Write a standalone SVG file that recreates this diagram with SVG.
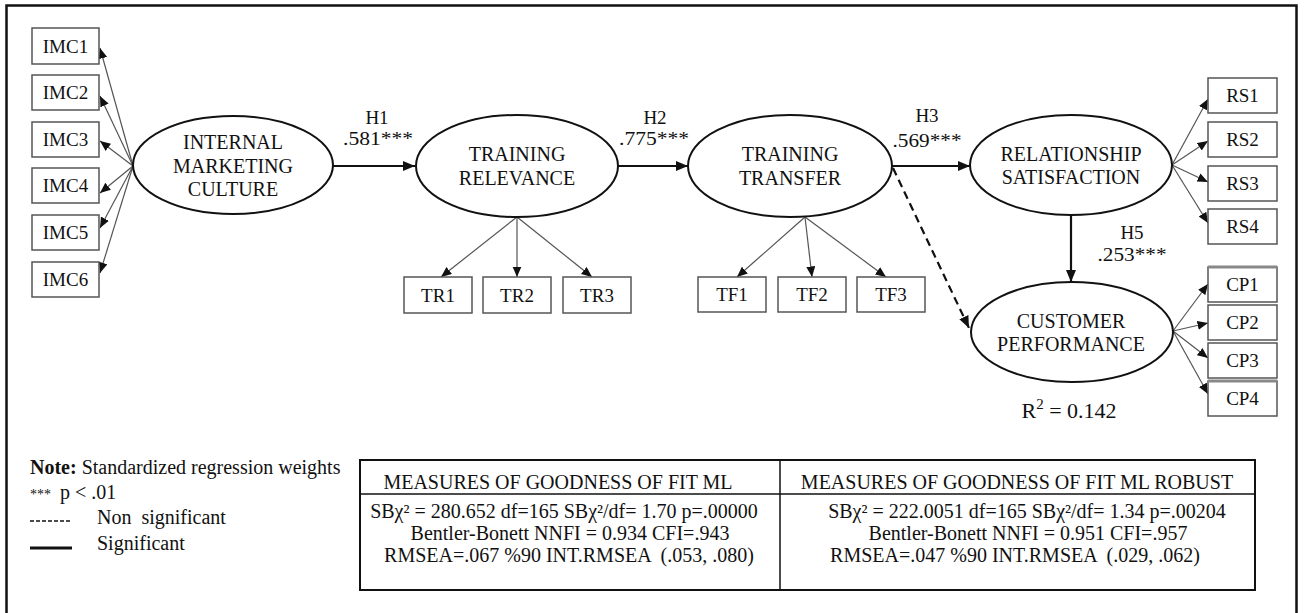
<svg xmlns="http://www.w3.org/2000/svg" width="1304" height="613" viewBox="0 0 1304 613">
<style>
text{font-family:"Liberation Serif","Times New Roman",serif;fill:#111}
.lat{font-size:20px;text-anchor:middle}
.obs{font-size:19px;text-anchor:middle}
.lbl{font-size:19px;text-anchor:middle}
.tb{font-size:20px;white-space:pre}
.tc{font-size:20px;white-space:pre;text-anchor:middle}
.ell{fill:#fff;stroke:#111;stroke-width:2}
.box{fill:#fff;stroke:#555;stroke-width:1.5}
.ind{stroke:#555;stroke-width:1.2;fill:none;marker-end:url(#ah)}
.str{stroke:#111;stroke-width:2.2;fill:none;marker-end:url(#ahb)}
.dash{stroke:#111;stroke-width:2.2;fill:none;stroke-dasharray:8 5;marker-end:url(#ahb)}
</style>
<defs>
<marker id="ah" markerUnits="userSpaceOnUse" markerWidth="11" markerHeight="10" refX="10.5" refY="4.5" orient="auto"><path d="M0,0 L10.5,4.5 L0,9 z" fill="#111"/></marker>
<marker id="ahb" markerUnits="userSpaceOnUse" markerWidth="13" markerHeight="11" refX="12" refY="5" orient="auto"><path d="M0,0 L12,5 L0,10 z" fill="#111"/></marker>
</defs>
<rect width="1304" height="613" fill="#fff"/>
<path d="M6.5,613 V5.5 H1296.5 V613" fill="none" stroke="#111" stroke-width="2.5"/>

<g id="connectors">
<line class="ind" x1="133" y1="166" x2="100" y2="48"/>
<line class="ind" x1="133" y1="166" x2="100" y2="96"/>
<line class="ind" x1="133" y1="166" x2="100" y2="141"/>
<line class="ind" x1="133" y1="166" x2="100" y2="193"/>
<line class="ind" x1="133" y1="166" x2="100" y2="228"/>
<line class="ind" x1="133" y1="166" x2="100" y2="273"/>
<line class="str" x1="333" y1="166" x2="415" y2="166"/>
<line class="str" x1="618" y1="166" x2="688" y2="166"/>
<line class="str" x1="892" y1="166" x2="970" y2="166"/>
<line class="ind" x1="517" y1="217" x2="441" y2="277"/>
<line class="ind" x1="517" y1="217" x2="517" y2="277"/>
<line class="ind" x1="517" y1="217" x2="592" y2="277"/>
<line class="ind" x1="805" y1="217" x2="737" y2="277"/>
<line class="ind" x1="805" y1="217" x2="812" y2="277"/>
<line class="ind" x1="805" y1="217" x2="886" y2="277"/>
<line class="dash" x1="893" y1="168" x2="969" y2="328"/>
<line class="str" x1="1071" y1="215" x2="1071" y2="282"/>
<line class="ind" x1="1172" y1="165" x2="1208" y2="99"/>
<line class="ind" x1="1172" y1="165" x2="1208" y2="141"/>
<line class="ind" x1="1172" y1="165" x2="1208" y2="182"/>
<line class="ind" x1="1172" y1="165" x2="1208" y2="223"/>
<line class="ind" x1="1173" y1="331" x2="1208" y2="284"/>
<line class="ind" x1="1173" y1="331" x2="1208" y2="323"/>
<line class="ind" x1="1173" y1="331" x2="1208" y2="358"/>
<line class="ind" x1="1173" y1="331" x2="1208" y2="394"/>
</g>

<g id="labels">
<text class="lbl" x="377" y="124">H1</text>
<text class="lbl" x="378" y="145" textLength="70" lengthAdjust="spacingAndGlyphs">.581***</text>
<text class="lbl" x="655" y="124">H2</text>
<text class="lbl" x="654" y="145" textLength="70" lengthAdjust="spacingAndGlyphs">.775***</text>
<text class="lbl" x="927" y="122">H3</text>
<text class="lbl" x="927" y="147" textLength="69" lengthAdjust="spacingAndGlyphs">.569***</text>
<text class="lbl" x="1132" y="239">H5</text>
<text class="lbl" x="1132" y="261" textLength="69" lengthAdjust="spacingAndGlyphs">.253***</text>
<text x="1069" y="418" style="font-size:22px;text-anchor:middle;white-space:pre">R<tspan font-size="15" dy="-9">2</tspan><tspan dy="9"> = 0.142</tspan></text>
</g>

<g id="imc"><ellipse class="ell" cx="233" cy="165" rx="100" ry="49"/>
<text class="lat" x="233" y="149">INTERNAL</text><text class="lat" x="233" y="173">MARKETING</text><text class="lat" x="233" y="196">CULTURE</text></g>
<g id="tr"><ellipse class="ell" cx="517" cy="166" rx="101" ry="51"/>
<text class="lat" x="517" y="161">TRAINING</text><text class="lat" x="517" y="185">RELEVANCE</text></g>
<g id="tf"><ellipse class="ell" cx="790" cy="166" rx="102" ry="51"/>
<text class="lat" x="790" y="161">TRAINING</text><text class="lat" x="790" y="185">TRANSFER</text></g>
<g id="rs"><ellipse class="ell" cx="1071" cy="165" rx="101" ry="50"/>
<text class="lat" x="1071" y="161">RELATIONSHIP</text><text class="lat" x="1071" y="184">SATISFACTION</text></g>
<g id="cp"><ellipse class="ell" cx="1072" cy="332" rx="101" ry="50"/>
<text class="lat" x="1071" y="328">CUSTOMER</text><text class="lat" x="1071" y="351">PERFORMANCE</text></g>

<g id="imc1"><rect class="box" x="32" y="28" width="67" height="36"/><text class="obs" x="65.5" y="53">IMC1</text></g>
<g id="imc2"><rect class="box" x="32" y="75" width="67" height="35"/><text class="obs" x="65.5" y="99">IMC2</text></g>
<g id="imc3"><rect class="box" x="32" y="122" width="67" height="35"/><text class="obs" x="65.5" y="146">IMC3</text></g>
<g id="imc4"><rect class="box" x="32" y="168" width="67" height="35"/><text class="obs" x="65.5" y="192">IMC4</text></g>
<g id="imc5"><rect class="box" x="32" y="215" width="67" height="35"/><text class="obs" x="65.5" y="239">IMC5</text></g>
<g id="imc6"><rect class="box" x="32" y="262" width="67" height="35"/><text class="obs" x="65.5" y="286">IMC6</text></g>

<g id="tr1"><rect class="box" x="404" y="277" width="68" height="36"/><text class="obs" x="438" y="302">TR1</text></g>
<g id="tr2"><rect class="box" x="483" y="277" width="68" height="36"/><text class="obs" x="517" y="302">TR2</text></g>
<g id="tr3"><rect class="box" x="563" y="277" width="68" height="36"/><text class="obs" x="597" y="302">TR3</text></g>
<g id="tf1"><rect class="box" x="698" y="277" width="68" height="35"/><text class="obs" x="732" y="301">TF1</text></g>
<g id="tf2"><rect class="box" x="778" y="277" width="68" height="35"/><text class="obs" x="812" y="301">TF2</text></g>
<g id="tf3"><rect class="box" x="857" y="277" width="68" height="35"/><text class="obs" x="891" y="301">TF3</text></g>

<g id="rs1"><rect class="box" x="1208" y="78" width="69" height="35"/><text class="obs" x="1242.5" y="102">RS1</text></g>
<g id="rs2"><rect class="box" x="1208" y="122" width="69" height="35"/><text class="obs" x="1242.5" y="146">RS2</text></g>
<g id="rs3"><rect class="box" x="1208" y="166" width="69" height="35"/><text class="obs" x="1242.5" y="190">RS3</text></g>
<g id="rs4"><rect class="box" x="1208" y="209" width="69" height="35"/><text class="obs" x="1242.5" y="233">RS4</text></g>
<g id="cp1"><rect class="box" x="1208" y="267" width="69" height="35"/><line x1="1208" y1="267" x2="1277" y2="267" stroke="#888" stroke-width="3"/><text class="obs" x="1242.5" y="291">CP1</text></g>
<g id="cp2"><rect class="box" x="1208" y="305" width="69" height="35"/><text class="obs" x="1242.5" y="329">CP2</text></g>
<g id="cp3"><rect class="box" x="1208" y="343" width="69" height="35"/><text class="obs" x="1242.5" y="367">CP3</text></g>
<g id="cp4"><rect class="box" x="1208" y="381" width="69" height="35"/><line x1="1208" y1="381" x2="1277" y2="381" stroke="#888" stroke-width="3"/><text class="obs" x="1242.5" y="405">CP4</text></g>

<g id="legend">
<text class="tb" x="30" y="474"><tspan font-weight="bold">Note:</tspan> Standardized regression weights</text>
<text class="tb" x="30" y="499"><tspan font-size="14">***</tspan><tspan x="60">p &lt; .01</tspan></text>
<line x1="30" y1="521" x2="72" y2="521" stroke="#111" stroke-width="1.5" stroke-dasharray="4 2"/>
<text class="tb" x="97" y="524">Non  significant</text>
<line x1="30" y1="548" x2="72" y2="548" stroke="#111" stroke-width="3"/>
<text class="tb" x="97" y="550">Significant</text>
</g>

<g id="fit-table">
<rect x="360" y="460" width="895" height="130" fill="none" stroke="#111" stroke-width="2"/>
<line x1="360" y1="494" x2="1255" y2="494" stroke="#111" stroke-width="1.5"/>
<line x1="780" y1="460" x2="780" y2="590" stroke="#111" stroke-width="1.5"/>
<text class="tc" x="558" y="489">MEASURES OF GOODNESS OF FIT ML</text>
<text class="tc" x="1017" y="489">MEASURES OF GOODNESS OF FIT ML ROBUST</text>
<text class="tc" x="564" y="518">SBχ² = 280.652 df=165 SBχ²/df= 1.70 p=.00000</text>
<text class="tc" x="570" y="540">Bentler-Bonett NNFI = 0.934 CFI=.943</text>
<text class="tc" x="569" y="562">RMSEA=.067 %90 INT.RMSEA  (.053, .080)</text>
<text class="tc" x="1027" y="518">SBχ² = 222.0051 df=165 SBχ²/df= 1.34 p=.00204</text>
<text class="tc" x="1028" y="540">Bentler-Bonett NNFI = 0.951 CFI=.957</text>
<text class="tc" x="1015" y="562">RMSEA=.047 %90 INT.RMSEA  (.029, .062)</text>
</g>
</svg>
